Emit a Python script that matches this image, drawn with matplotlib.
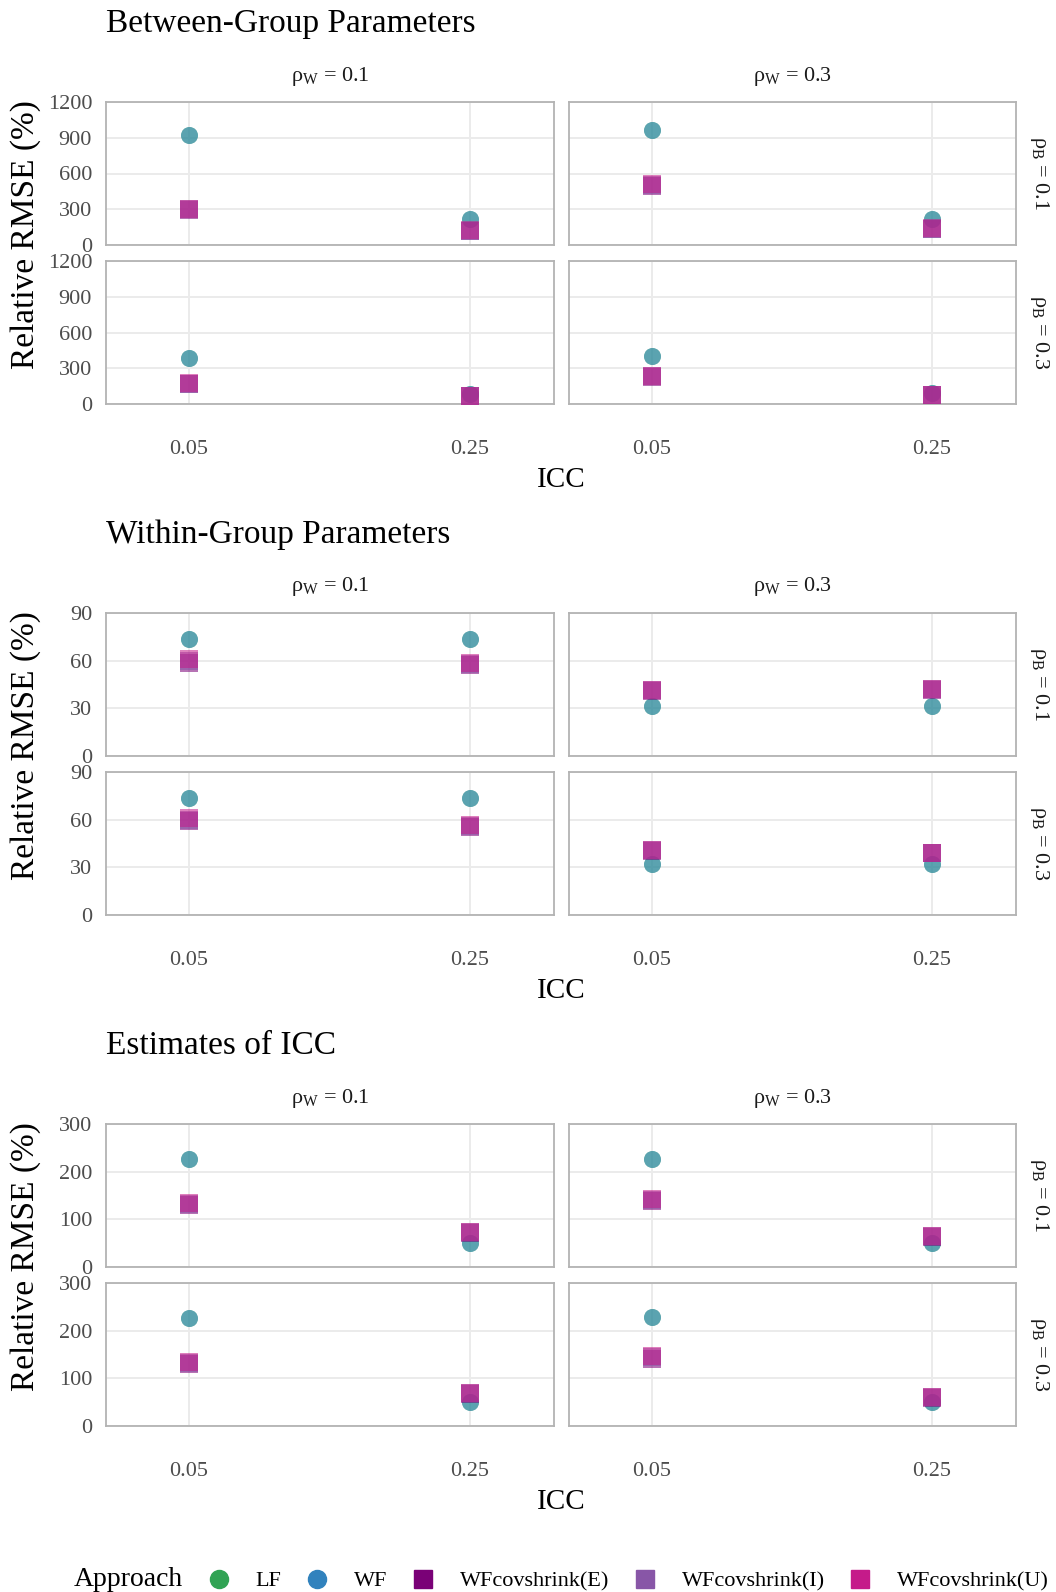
import numpy as np
import matplotlib
matplotlib.use("Agg")
import matplotlib.pyplot as plt
from matplotlib.lines import Line2D

plt.rcParams["font.family"] = ["Liberation Serif", "DejaVu Serif"]
plt.rcParams["mathtext.fontset"] = "custom"
plt.rcParams["mathtext.rm"] = "Liberation Serif"
plt.rcParams["mathtext.it"] = "Liberation Serif:italic"

icc_labels = ["0.05", "0.25"]
rho_w = ["0.1", "0.3"]
rho_b = ["0.1", "0.3"]
approaches = ["LF", "WF", "WFcovshrink(E)", "WFcovshrink(I)", "WFcovshrink(U)"]
colors = ["#31a354", "#3182bd", "#7a0177", "#8856a7", "#c51b8a"]
markers = ["o", "o", "s", "s", "s"]

# Panel-Reihenfolge: (W0.1,B0.1), (W0.3,B0.1), (W0.1,B0.3), (W0.3,B0.3); je [ICC 0.05, ICC 0.25]
between = {
    "LF":             [[925, 218], [962, 222], [386, 80], [403, 92]],
    "WF":             [[925, 218], [962, 222], [386, 80], [403, 92]],
    "WFcovshrink(E)": [[290, 116], [495, 134], [165, 66], [226, 74]],
    "WFcovshrink(I)": [[300, 120], [505, 137], [170, 68], [231, 76]],
    "WFcovshrink(U)": [[305, 122], [512, 139], [173, 70], [234, 78]],
}
within = {
    "LF":             [[73.4, 73.4], [31.3, 31.3], [73.4, 73.4], [31.9, 31.9]],
    "WF":             [[73.4, 73.4], [31.3, 31.3], [73.4, 73.4], [31.9, 31.9]],
    "WFcovshrink(E)": [[58.5, 57.5], [41.0, 41.8], [59.0, 55.5], [40.5, 38.8]],
    "WFcovshrink(I)": [[60.0, 58.0], [41.5, 42.1], [60.0, 56.0], [40.9, 39.0]],
    "WFcovshrink(U)": [[61.0, 58.5], [41.8, 42.4], [61.0, 56.5], [41.2, 39.3]],
}
icc_est = {
    "LF":             [[227, 51], [227, 51], [227, 51], [229, 51]],
    "WF":             [[227, 51], [227, 51], [227, 51], [229, 51]],
    "WFcovshrink(E)": [[130, 71], [138, 62], [130, 67], [141, 58]],
    "WFcovshrink(I)": [[133, 73], [141, 64], [133, 69], [144, 60]],
    "WFcovshrink(U)": [[135, 74], [143, 65], [135, 70], [146, 61]],
}

sections = [
    ("Between-Group Parameters", between, [0, 300, 600, 900, 1200], 1200),
    ("Within-Group Parameters", within, [0, 30, 60, 90], 90),
    ("Estimates of ICC", icc_est, [0, 100, 200, 300], 300),
]

W, H = 1056, 1592
fig = plt.figure(figsize=(W / 100, H / 100), dpi=100)


def px_axes(x0, y0, x1, y1):
    return fig.add_axes([x0 / W, 1 - y1 / H, (x1 - x0) / W, (y1 - y0) / H])


col_x = [(106, 554), (569, 1015.5)]
row_y = [(102, 245), (261, 404)]
step = 511
xs = np.arange(len(icc_labels))

for s, (title, data, yt, ymax) in enumerate(sections):
    off = s * step
    fig.text(106 / W, 1 - (24 + off) / H, title, fontsize=24, ha="left", va="center")
    fig.text(26 / W, 1 - (235 + off) / H, "Relative RMSE (%)", fontsize=24,
             rotation=90, ha="center", va="center")
    fig.text(561 / W, 1 - (480 + off) / H, "ICC", fontsize=21, ha="center", va="center")
    for r in range(2):
        for c in range(2):
            k = r * 2 + c
            y0, y1 = row_y[r][0] + off, row_y[r][1] + off
            ax = px_axes(col_x[c][0], y0, col_x[c][1], y1)
            for a, col, m in zip(approaches, colors, markers):
                ax.scatter(xs, data[a][k], s=150, marker=m, color=col,
                           alpha=0.55, linewidths=0, zorder=3)
            ax.set_xlim(-0.295, 1.30)
            ax.set_ylim(0, ymax)
            ax.set_yticks(yt)
            ax.set_xticks(xs)
            ax.set_xticklabels(icc_labels)
            ax.grid(color="#ebebeb", lw=1.4)
            ax.set_axisbelow(True)
            for sp in ax.spines.values():
                sp.set_color("#b3b3b3")
                sp.set_linewidth(1.3)
            ax.tick_params(length=0, labelsize=16, colors="#4d4d4d")
            ax.tick_params(axis="y", pad=10)
            ax.tick_params(axis="x", pad=26)
            if c == 1:
                ax.tick_params(labelleft=False)
            if r == 0:
                ax.tick_params(labelbottom=False)
                xc = (col_x[c][0] + col_x[c][1]) / 2
                fig.text(xc / W, 1 - (76 + off) / H,
                         "ρ$_{\\mathrm{W}}$ = " + rho_w[c],
                         fontsize=16, ha="center", va="center", color="#1a1a1a")
            if c == 1:
                fig.text(1040 / W, 1 - ((y0 + y1) / 2) / H,
                         "ρ$_{\\mathrm{B}}$ = " + rho_b[r],
                         fontsize=16, rotation=-90, ha="center", va="center",
                         color="#1a1a1a")

# Legende
fig.text(74 / W, 1 - 1580 / H, "Approach", fontsize=20, ha="left", va="center")
handles = [Line2D([], [], ls="none", marker=m, color=col, markersize=13)
           for col, m in zip(colors, markers)]
fig.legend(handles, approaches, ncol=5, loc="center left",
           bbox_to_anchor=(205.5 / W, 1 - 1581 / H), frameon=False,
           fontsize=16, handlelength=1.2, handletextpad=1.06,
           columnspacing=1.0, borderpad=0, borderaxespad=0)

fig.savefig("out.png", dpi=100)
